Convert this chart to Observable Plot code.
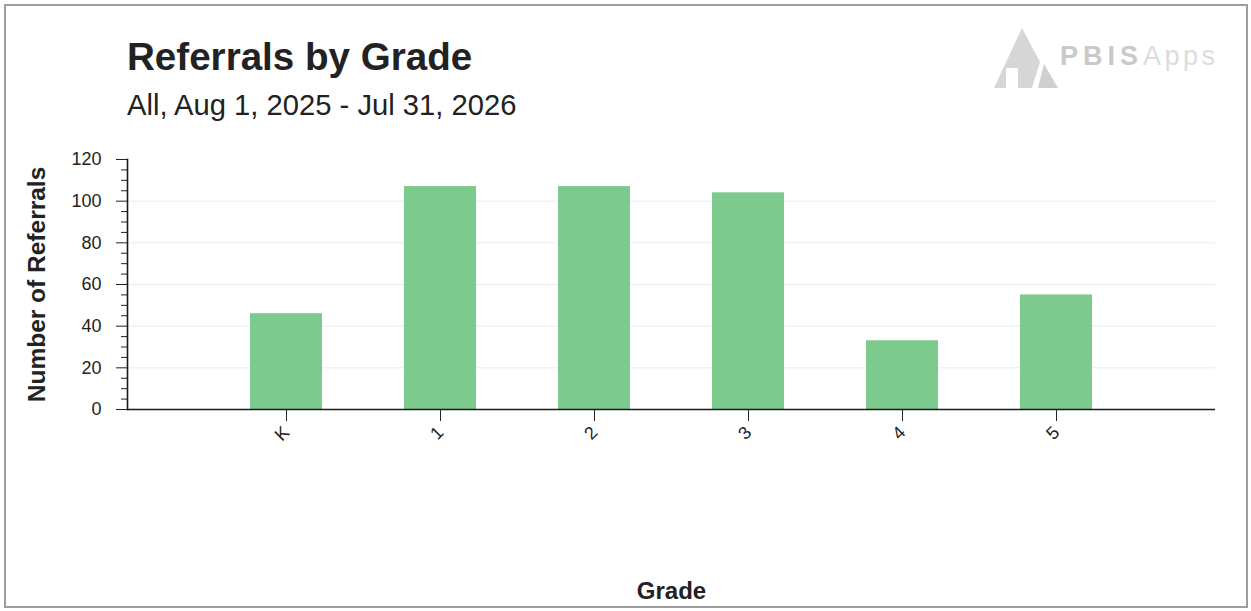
<!DOCTYPE html>
<html><head><meta charset="utf-8">
<script src="https://cdn.jsdelivr.net/npm/d3@7"></script>
<script src="https://cdn.jsdelivr.net/npm/@observablehq/plot@0.6"></script>
<style>
body{margin:0;background:#fff;font-family:"Liberation Sans",Arial,sans-serif;}
#wrap{position:relative;width:1251px;height:611px;overflow:hidden;background:#fff;}
#frame{position:absolute;left:4px;top:4px;width:1244px;height:604px;border:2px solid #9e9e9e;box-sizing:border-box;}
#title{position:absolute;left:127px;top:38px;font-size:38.6px;line-height:38px;font-weight:bold;color:#222;white-space:nowrap;}
#subtitle{position:absolute;left:127px;top:91px;font-size:29.2px;line-height:29px;color:#222;white-space:nowrap;}
#logo{position:absolute;left:994px;top:28px;height:70px;white-space:nowrap;}
#logo svg{position:absolute;left:0;top:0;}
#logo .t{position:absolute;left:66px;top:15px;font-size:27px;line-height:27px;}
#logo .p{font-weight:bold;color:#c9c9c9;letter-spacing:5px;}
#logo .a{color:#dcdcdc;letter-spacing:3.5px;}
#chart{position:absolute;left:0;top:140px;}
</style></head>
<body>
<div id="wrap">
  <div id="frame"></div>
  <div id="title">Referrals by Grade</div>
  <div id="subtitle">All, Aug 1, 2025 - Jul 31, 2026</div>
  <div id="logo">
    <svg width="70" height="62"><polygon points="28,0 46,34 38,60 0,60" fill="#d6d6d6"/><polygon points="50,36 64,60 44,60" fill="#cfcfcf"/><rect x="12" y="40" width="12" height="20" fill="#fff"/></svg>
    <div class="t"><span class="p">PBIS</span><span class="a">Apps</span></div>
  </div>
  <div id="chart"></div>
</div>
<script>
const grades = ["K", "1", "2", "3", "4", "5"];
const referrals = [46, 107, 107, 104, 33, 55];
const yMajorTicks = [0, 20, 40, 60, 80, 100, 120];
const yMinorTicks = [5,10,15,25,30,35,45,50,55,65,70,75,85,90,95,105,110,115];
const gridValues = [20, 40, 60, 80, 100];
const yLabel = "Number of Referrals";
const xLabel = "Grade";

const data = grades.map((g, i) => ({grade: g, count: referrals[i]}));

const chart = Plot.plot({
  width: 1251,
  height: 470,
  marginLeft: 127,
  marginRight: 36,
  marginTop: 19,
  marginBottom: 201,
  style: {fontFamily: "'Liberation Sans', Arial, sans-serif", fontSize: "18px", color: "#222", background: "transparent", overflow: "visible"},
  x: {domain: grades, paddingInner: 0.535, paddingOuter: 0.78},
  y: {domain: [0, 120]},
  marks: [
    Plot.ruleY(gridValues, {stroke: "#ebebeb", strokeWidth: 1}),
    Plot.barY(data, {x: "grade", y: "count", fill: "#7cca8e"}),
    Plot.axisY(yMinorTicks, {tickSize: 6, tickFormat: () => "", label: null, stroke: "#222"}),
    Plot.axisY(yMajorTicks, {tickSize: 11, tickPadding: 15, label: null, fontSize: 18, stroke: "#222"}),
    Plot.axisX({tickSize: 12, tickRotate: -45, tickPadding: 8, label: null, fontSize: 18, stroke: "#222"}),
    Plot.ruleY([0], {stroke: "#1a1a1a", strokeWidth: 1.6}),
    Plot.frame({anchor: "left", stroke: "#1a1a1a", strokeWidth: 1.6}),
    Plot.text([yLabel], {frameAnchor: "left", rotate: -90, dx: -90, textAnchor: "middle", fontSize: 24.5, fontWeight: "bold", fill: "#222"}),
    Plot.text([xLabel], {frameAnchor: "bottom", dy: 189, fontSize: 24, fontWeight: "bold", fill: "#222"})
  ]
});
document.getElementById("chart").append(chart);
</script>
</body></html>
